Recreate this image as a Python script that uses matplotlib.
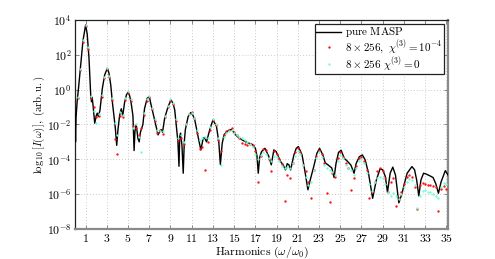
import numpy as np
import matplotlib
matplotlib.use("Agg")
import matplotlib.pyplot as plt

plt.rcParams['mathtext.fontset'] = 'cm'
plt.rcParams['font.family'] = ['DejaVu Serif']

# ---- pure MASP (black line): harmonic order, log10 intensity ----
masp_h = [0.0, 0.05, 0.1, 0.2, 0.35, 0.54, 0.75, 1.0, 1.15, 1.32, 1.48, 1.56, 1.62, 1.7, 1.86,
          2.0, 2.1, 2.2, 2.35, 2.58, 2.8, 3.05, 3.2, 3.37, 3.52, 3.67, 3.8, 3.93, 4.05, 4.2,
          4.36, 4.5, 4.67, 4.85, 5.0, 5.15, 5.3, 5.46, 5.57, 5.65, 5.77, 5.93, 6.05, 6.15,
          6.24, 6.4, 6.55, 6.8, 7.0, 7.2, 7.5, 7.83, 8.0, 8.14, 8.25, 8.45, 8.77, 9.05, 9.25,
          9.4, 9.56, 9.7, 9.8, 9.87, 9.95, 10.08, 10.2, 10.3, 10.4, 10.66, 10.9, 11.1, 11.29,
          11.6, 11.86, 12.08, 12.2, 12.4, 12.7, 13.0, 13.33, 13.55, 13.7, 13.87, 14.04, 14.18,
          14.45, 14.75, 15.0, 15.3, 15.76, 16.23, 16.7, 17.0, 17.15, 17.27, 17.4, 17.58, 17.9,
          18.27, 18.5, 18.74, 18.96, 19.37, 19.6, 19.84, 20.0, 20.16, 20.32, 20.63, 20.85,
          21.05, 21.4, 21.7, 21.95, 22.17, 22.5, 22.8, 23.05, 23.36, 23.58, 23.9, 24.2, 24.42,
          24.6, 24.84, 25.08, 25.37, 25.7, 26.0, 26.3, 26.5, 26.8, 27.08, 27.35, 27.66, 28.05,
          28.4, 28.75, 29.0, 29.25, 29.45, 29.7, 29.95, 30.2, 30.52, 30.8, 31.0, 31.3, 31.75,
          32.0, 32.2, 32.4, 32.6, 32.85, 33.1, 33.45, 33.75, 34.0, 34.25, 34.5, 34.9, 35.15]
masp_log = [-1.4, -3.0, -1.6, -0.7, 0.2, 1.42, 2.8, 3.71, 3.2, 1.8, -0.3, -0.7, -0.45, -0.9, -1.93,
            -1.5, -1.35, -1.55, -1.2, 0.08, 0.85, 1.23, 0.95, 0.27, -0.7, -1.5, -2.2, -3.2, -2.3, -1.5,
            -1.1, -1.5, -0.75, -0.3, -0.15, -0.35, -0.8, -1.5, -3.5, -2.4, -2.0, -2.8, -3.0, -2.5,
            -2.3, -2.0, -1.1, -0.5, -0.4, -0.95, -1.74, -2.6, -2.4, -2.3, -2.45, -1.64, -0.98, -0.59, -0.8,
            -1.17, -2.12, -3.0, -4.4, -2.7, -2.5, -3.2, -4.8, -3.0, -2.3, -1.55, -1.32, -1.45, -1.74,
            -2.7, -3.46, -2.8, -2.75, -3.0, -2.3, -1.74, -2.1, -3.0, -4.3, -3.1, -2.6, -2.5,
            -2.35, -2.28, -2.5, -2.7, -2.89, -3.04, -3.14, -3.37, -3.8, -4.8, -3.9, -3.56, -3.37,
            -3.84, -4.32, -3.46, -3.56, -4.13, -4.3, -4.61, -4.25, -4.32, -4.61, -3.75, -3.37,
            -3.27, -3.75, -4.8, -5.75, -5.18, -4.42, -3.65, -3.37, -3.75, -4.2, -4.35, -4.5, -5.05,
            -4.23, -3.6, -3.48, -3.94, -4.13, -4.33, -4.8, -4.23, -3.85, -3.75, -4.04, -4.8, -6.24,
            -5.19, -4.55, -4.6, -5.0, -5.9, -4.8, -4.45, -4.9, -6.5, -6.0, -5.5, -4.8, -4.42,
            -4.6, -5.19, -6.1, -5.19, -4.8, -4.85, -4.95, -5.05, -5.4, -5.95, -5.3, -4.65, -4.9]

# ---- dotted series, sampled every quarter harmonic (0.25 ... 35.0) ----
dots_h = [0.25 * k for k in range(1, 141)]
red_log = [-0.5, 1.1, 2.75, 3.65, 2.35, -0.5, -1.0, -1.6, -1.5, -0.4, 0.65, 1.18, 0.7, -0.6, -2.83,
           -3.7, -1.5, -1.6, -0.6, -0.2, -0.65, -2.1, -2.2, -2.6, -2.2, -1.45, -0.65, -0.45, -1.1,
           -1.8, -2.5, -2.3, -2.55, -1.6, -1.0, -0.65, -0.85, -1.8, -2.9, -2.8, -3.1, -2.0, -1.4,
           -1.3, -1.65, -2.5, -3.4, -3.3, -4.6, -3.0, -2.3, -1.75, -2.05, -2.9, -3.5,
           -2.6, -2.4, -2.3, -2.2, -2.45, -2.6, -2.75, -3.05, -3.15, -3.2, -3.15, -3.2, -3.5, -5.3,
           -3.8, -3.4, -3.45, -4.0, -4.7, -3.5, -3.7, -4.0, -4.25, -6.4, -4.9, -5.1, -4.2, -3.6,
           -3.35, -3.6, -4.3, -4.7, -5.3, -6.2, -4.6, -3.8, -3.45, -3.7, -4.2, -5.95, -6.45, -4.8,
           -5.0, -3.95, -3.6, -3.85, -4.2, -4.5, -5.76, -5.1, -4.4, -3.95, -3.85, -4.1, -4.6, -6.24,
           -5.9, -5.3, -4.7, -4.5, -4.7, -5.1, -5.85, -5.3, -5.1, -6.7, -6.2, -5.9, -5.4, -5.0,
           -4.9, -5.0, -5.57, -6.85, -5.5, -5.35, -5.4, -5.45, -5.5, -5.55, -5.6, -6.95, -5.7,
           -5.55, -5.7]
cyan_log = [-0.4, 1.2, 2.85, 3.72, 2.45, -0.35, -1.2, -1.9, -1.4, -0.3, 0.75, 1.25, 0.8, -0.5, -1.9,
            -2.6, -1.3, -1.45, -0.5, -0.1, -0.55, -2.2, -1.95, -2.7, -3.56, -1.35, -0.55, -0.35, -1.05,
            -1.7, -2.3, -2.35, -2.4, -1.5, -0.95, -0.55, -0.75, -1.7, -2.8, -2.6, -3.0, -1.95, -1.4,
            -1.35, -1.65, -2.3, -2.9, -2.8, -2.7, -2.75, -2.15, -1.7, -1.95, -2.75, -4.3,
            -2.7, -2.5, -2.35, -2.3, -2.5, -2.6, -2.7, -2.8, -2.9, -3.0, -3.1, -3.3, -3.7, -4.0,
            -3.75, -3.6, -3.7, -3.9, -4.1, -3.8, -3.85, -4.1, -4.4, -4.5, -4.45, -4.5, -4.2, -3.8,
            -3.5, -3.7, -4.3, -5.0, -5.5, -5.3, -4.6, -3.95, -3.6, -3.85, -4.3, -4.5, -4.6, -4.75,
            -4.9, -4.1, -3.75, -3.95, -4.3, -4.5, -4.6, -4.9, -4.5, -4.1, -4.0, -4.2, -4.8, -5.4,
            -5.8, -5.3, -5.05, -5.0, -5.1, -5.4, -5.9, -6.1, -5.95, -6.1, -6.3, -6.0, -5.6, -5.3,
            -5.15, -5.2, -5.5, -6.8, -6.1, -5.8, -5.75, -5.85, -5.9, -6.0, -6.1, -6.2, -5.6,
            -5.35, -5.4]

xticks = list(range(1, 36, 2))
yticks_exp = [-8, -6, -4, -2, 0, 2, 4]

fig = plt.figure(figsize=(4.95, 2.59), dpi=100)
ax = fig.add_axes([0.1515, 0.116, 0.7535, 0.807])

ax.plot(masp_h, 10.0 ** np.array(masp_log), color='black', lw=1.0, zorder=3,
        label=r'$\mathrm{pure\ MASP}$')
ax.plot(dots_h, 10.0 ** np.array(red_log), ls='none', marker='o', ms=1.7, mew=0,
        color='#ff1010', zorder=4, label=r'$8\times256,\ \chi^{(3)}=10^{-4}$')
ax.plot(dots_h, 10.0 ** np.array(cyan_log), ls='none', marker='o', ms=1.7, mew=0,
        color='#6fffd8', zorder=4, label=r'$8\times256\ \chi^{(3)}=0$')

ax.set_yscale('log')
ax.set_xlim(0, 35.15)
ax.set_ylim(1e-8, 1e4)
ax.set_xticks(xticks)
ax.set_xticklabels([f'${t}$' for t in xticks])
ax.set_yticks([10.0 ** e for e in yticks_exp])
ax.set_yticklabels([f'$10^{{{e}}}$' for e in yticks_exp])
ax.minorticks_off()
ax.tick_params(direction='in', length=3, width=0.6, colors='#777777', labelcolor='black',
               labelsize=8.5, top=True, right=True, pad=2.5)
ax.grid(True, color='#bbbbbb', lw=0.6, ls=(0, (1, 2.5)))
ax.set_axisbelow(True)

for s in ['top', 'left']:
    ax.spines[s].set_color('#222222')
    ax.spines[s].set_linewidth(0.9)
for s in ['bottom', 'right']:
    ax.spines[s].set_color('#8a8a8a')
    ax.spines[s].set_linewidth(1.6)

ax.set_xlabel(r'$\mathrm{Harmonics}\ (\omega/\omega_0)$', fontsize=8.5)
ax.set_ylabel(r'$\log_{10}[I(\omega)],\ \mathrm{(arb.u.)}$', fontsize=7.8)
ax.xaxis.set_label_coords(0.5, -0.075)
ax.yaxis.set_label_coords(-0.075, 0.5)

leg = ax.legend(loc='upper right', fontsize=8, frameon=True, fancybox=False, framealpha=1,
                edgecolor='#222222', borderaxespad=0.35, handlelength=2.2, handletextpad=0.4,
                borderpad=0.15, labelspacing=-0.1, markerscale=1.0)
leg.get_frame().set_linewidth(0.9)

fig.savefig('out.png', dpi=100)
